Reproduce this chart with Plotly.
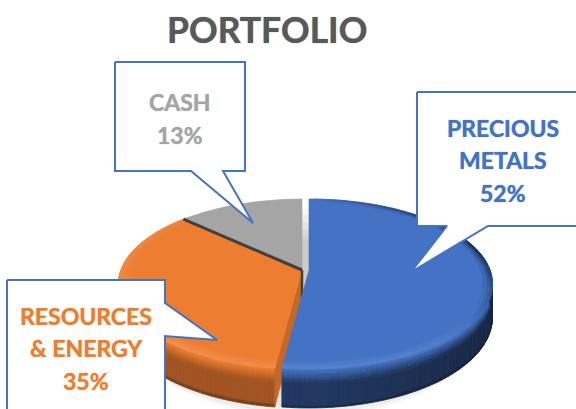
import math
from collections import defaultdict
import plotly.graph_objects as go

# ---- data ----
title_text = "PORTFOLIO"
categories = ["PRECIOUS METALS", "RESOURCES & ENERGY", "CASH"]
label_lines = [["PRECIOUS", "METALS"], ["RESOURCES", "& ENERGY"], ["CASH"]]
values = [52, 35, 13]
colors = ["#4472C4", "#ED7D31", "#A5A5A5"]

# ---- view geometry (perspective disc) ----
R, H, K, DROP, APEX_Y = 181.0, 82.7, 0.165, 32.5, 270.0
CX = [309.0, 302.0, 302.0]
W, HT = 576, 409


def proj(cx, theta, r=1.0, drop=0.0):
    t = math.radians(theta)
    s = 1.0 / (1.0 + K * r * math.cos(t))
    return cx + R * r * math.sin(t) * s, APEX_Y - H * r * math.cos(t) * s + drop * s


def rgb(h):
    return tuple(int(h[i:i + 2], 16) for i in (1, 3, 5))


def shade(h, f):
    c = rgb(h)
    if f <= 1:
        o = [v * f for v in c]
    else:
        o = [v + (255 - v) * (f - 1) for v in c]
    return "#%02x%02x%02x" % tuple(min(255, int(round(v / 2) * 2)) for v in o)


total = sum(values)
angles = [0.0]
for v in values:
    angles.append(angles[-1] + 360.0 * v / total)


def arc(t0, t1, n=None):
    n = n or max(2, int(abs(t1 - t0) / 1.5))
    return [t0 + (t1 - t0) * i / n for i in range(n + 1)]


fig = go.Figure()


def poly(xs, ys, color, opacity=None, line=None, width=0.6):
    fig.add_trace(go.Scatter(
        x=xs, y=ys, mode="lines", fill="toself", fillcolor=color,
        line=dict(color=line or color, width=width), hoverinfo="skip",
        showlegend=False, opacity=opacity))


# soft shadow below the disc
for drop, r in [(10, 0.99), (18, 0.99), (26, 0.985), (34, 0.98), (40, 0.97), (44, 0.955)]:
    pts = [proj(305, a, r, drop) for a in arc(0, 360, 120)]
    poly([p[0] for p in pts], [p[1] for p in pts], "rgba(0,0,0,0.035)", line="rgba(0,0,0,0)", width=0)


def side_factor(i, theta):
    t = math.radians(theta)
    if i == 0:
        return 0.50 - 0.15 * max(0, math.sin(t))
    return 0.68


buckets = defaultdict(list)


def add_quad(color, pts):
    buckets[color].append(pts)


def flush():
    for color, polys in buckets.items():
        xs, ys = [], []
        for pts in polys:
            for p in pts + [pts[0]]:
                xs.append(p[0])
                ys.append(p[1])
            xs.append(None)
            ys.append(None)
        poly(xs, ys, color, width=0.8)
    buckets.clear()


SIDE_T = [0, 0.05, 0.1, 0.15, 0.2, 0.25, 0.3, 0.36, 0.45, 0.65, 0.93, 1.0]
BEVEL_R = [0.93, 0.95, 0.97, 0.985, 1.0]


def draw_slice(i):
    t0, t1 = angles[i], angles[i + 1]
    cx, col = CX[i], colors[i]
    grid = arc(t0, t1)
    for a, b in zip(grid, grid[1:]):
        mid = (a + b) / 2
        cos_m = math.cos(math.radians(mid))
        if cos_m < 0.35 and i != 2:
            sf = side_factor(i, mid)
            for u, v in zip(SIDE_T, SIDE_T[1:]):
                m = (u + v) / 2
                f = 1.04 + (sf - 1.04) * (m / 0.36) if m < 0.36 else sf
                if m > 0.93:
                    f *= 0.78
                add_quad(shade(col, f), [proj(cx, a, 1, DROP * u), proj(cx, b, 1, DROP * u),
                                         proj(cx, b, 1, DROP * v), proj(cx, a, 1, DROP * v)])
    flush()
    if i == 1:
        e, e2 = proj(cx, t0, 1), proj(cx, t0, 1, DROP)
        a1, a2 = proj(cx, 0, 0, 0), proj(cx, 0, 0, DROP)
        poly([a1[0], e[0], e2[0], a2[0], a1[0]], [a1[1], e[1], e2[1], a2[1], a1[1]], shade(col, 0.83))
    pts = [proj(cx, 0, 0)] + [proj(cx, a) for a in grid]
    poly([p[0] for p in pts] + [pts[0][0]], [p[1] for p in pts] + [pts[0][1]], col)
    if i != 2:
        for a, b in zip(grid, grid[1:]):
            mid = (a + b) / 2
            sm, cm = math.sin(math.radians(mid)), math.cos(math.radians(mid))
            dark = max(0.0, sm) * max(0.0, min(1.0, cm + 0.75))
            light = max(0.0, -cm) * 0.12 + (max(0.0, -sm) * 0.1)
            for u, v in zip(BEVEL_R, BEVEL_R[1:]):
                q = ((u + v) / 2 - 0.93) / 0.07
                f = 1 - 0.72 * dark * q * q + light * q
                if abs(f - 1) < 0.015:
                    continue
                add_quad(shade(col, f), [proj(cx, a, u), proj(cx, b, u), proj(cx, b, v), proj(cx, a, v)])
        flush()


draw_slice(1)
draw_slice(2)
ge, ap, ap2 = proj(CX[2], angles[2]), proj(CX[2], 0, 0), proj(CX[2], 0, 0, DROP)
fig.add_trace(go.Scatter(x=[ge[0], ap[0]], y=[ge[1], ap[1]], mode="lines", hoverinfo="skip", showlegend=False,
                         line=dict(color="#404040", width=3)))
fig.add_trace(go.Scatter(x=[ap[0], ap2[0]], y=[ap[1], ap2[1]], mode="lines", hoverinfo="skip", showlegend=False,
                         line=dict(color="#404040", width=2.5)))
draw_slice(0)


def callout(xs, ys):
    fig.add_trace(go.Scatter(x=xs, y=ys, mode="lines", fill="toself", fillcolor="#ffffff", hoverinfo="skip",
                             showlegend=False, line=dict(color="#4472C4", width=2)))


callout([115, 245, 245, 223, 253, 191, 115, 115], [62, 62, 171, 171, 223, 171, 171, 62])
callout([417, 585, 585, 488, 411, 447, 417, 417], [92, 92, 226, 226, 272, 226, 226, 92])
callout([7, 165, 165, 217, 165, 165, 7, 7], [280, 280, 303, 340, 336, 415, 415, 280])

ann = []


def label(x, y, text, color, size=23):
    ann.append(dict(x=x, y=y, xref="x", yref="y", text=text, showarrow=False, xanchor="center", yanchor="middle",
                    font=dict(family="Lato", size=size, color=color, weight="bold",
                              shadow=f"0 0 1px {color}")))


label(267, 29, title_text, "#595959", 35.5)
label(503, 127.5, label_lines[0][0], colors[0])
label(503, 160, label_lines[0][1], colors[0])
label(503, 193, f"{values[0]}%", colors[0])
label(86, 316, label_lines[1][0], colors[1])
label(86, 348, label_lines[1][1], colors[1])
label(86, 381, f"{values[1]}%", colors[1])
label(180, 102, label_lines[2][0], colors[2])
label(180, 135, f"{values[2]}%", colors[2])

fig.update_layout(
    width=W, height=HT, margin=dict(l=0, r=0, t=0, b=0), paper_bgcolor="#ffffff", plot_bgcolor="#ffffff",
    showlegend=False, annotations=ann,
    xaxis=dict(range=[0, W], visible=False, fixedrange=True),
    yaxis=dict(range=[HT, 0], visible=False, fixedrange=True),
)
fig.write_html("out.html", config=dict(displayModeBar=False), default_width="576px", default_height="409px",
               post_script="document.body.style.margin='0';document.documentElement.style.overflow='hidden';"
                           "window.dispatchEvent(new Event('resize'));")
